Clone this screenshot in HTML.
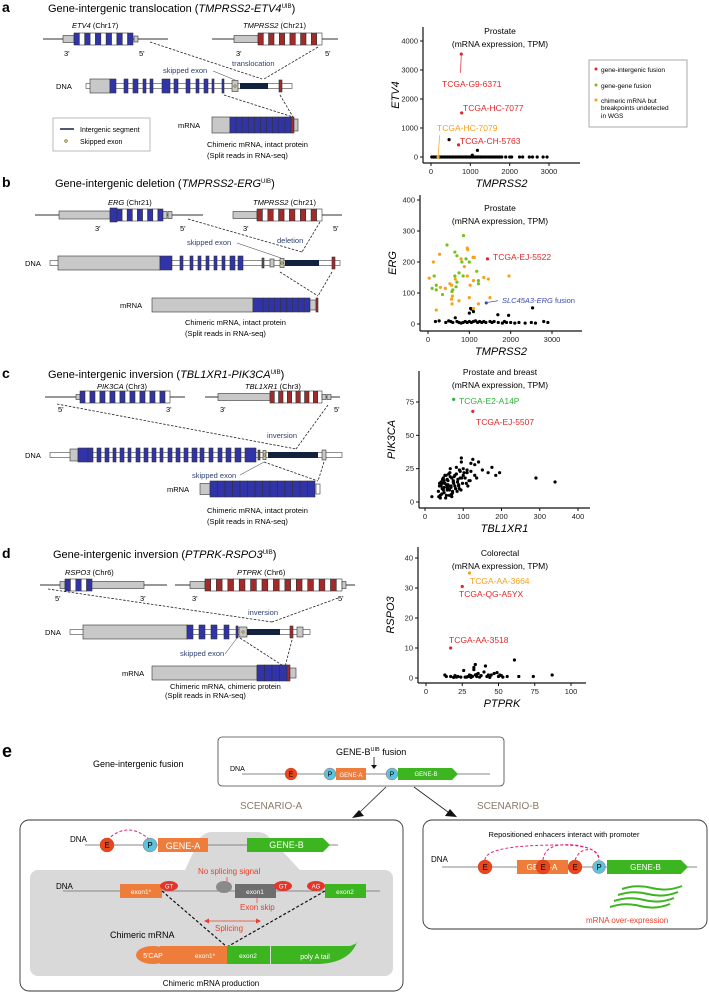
<!DOCTYPE html>
<html><head><meta charset="utf-8"><style>
body{margin:0;background:#fff}
svg{display:block;font-family:"Liberation Sans",Arial,sans-serif}
</style></head><body>
<svg id="fig" width="709" height="993" viewBox="0 0 709 993" xmlns="http://www.w3.org/2000/svg">
<g id="diag"></g>
<g id="charts"></g>
<g id="panelE"></g>
</svg>
<script>
// ---------- chart data ----------
const aBlackX=[20,60,100,140,180,220,260,300,340,380,420,460,500,540,580,620,660,700,740,780,820,860,900,940,980,1020,1060,1100,1140,1180,1220,1260,1300,1350,1400,1450,1500,1550,1600,1650,1700,1750,1800,1900,2000,2050,2250,2330,2500,2580,2700,2850,2950,460,1180,1050];
const aBlackY=[0,0,0,0,0,0,0,0,0,0,0,0,0,0,0,0,0,0,0,0,0,0,0,0,0,0,0,0,0,0,0,0,0,0,0,0,0,0,0,0,0,0,0,0,0,0,0,0,0,0,0,0,0,600,230,60];
const aRedX=[770,780,700];
const aRedY=[3550,1520,420];
const aOrX=[180];
const aOrY=[0];
const aXTicks=[0,1000,2000,3000];
const aYTicks=[0,1000,2000,3000,4000];

const bGreenX=[460,860,650,700,820,920,1000,1180,1220,1220,150,200,100,200,350,580,650,750,700,600,680,850];
const bGreenY=[255,285,232,220,200,210,200,170,140,130,155,125,115,110,95,105,155,165,135,110,120,155];
const bOrX=[130,280,30,300,420,530,570,660,590,570,580,750,1000,1100,200,950,1020,1100,1090,1120,960,950,800,1460,1960,1500,1220,1350,880];
const bOrY=[200,225,148,118,115,130,125,145,90,80,65,75,85,50,45,155,125,140,215,215,240,245,210,145,155,85,65,150,185];
const bBlackX=[180,270,430,500,550,600,660,700,750,800,850,900,950,1000,1050,1100,1150,1200,1250,1300,1350,1400,1500,1550,1600,1700,1800,1850,1900,2000,2100,2200,2350,2500,2600,2800,2900,1000,1050,1100,1690,1950,2530,1030];
const bBlackY=[8,10,5,10,8,5,20,8,5,3,5,8,5,8,5,8,10,5,8,5,8,5,8,5,8,5,3,8,5,5,3,5,3,5,3,8,5,35,48,40,30,28,52,50];
const bRedX=[1440];
const bRedY=[210];
const bBlueX=[1410];
const bBlueY=[68];
const bXTicks=[0,1000,2000,3000];
const bYTicks=[0,100,200,300,400];

const cBlackX=[18,35,38,40,42,45,48,50,52,55,58,60,62,65,68,70,72,75,78,80,82,85,88,90,92,95,98,100,105,110,115,120,125,130,140,150,165,175,185,195,290,340,36,44,50,56,60,64,70,74,78,84,90,96,102,108,112,118,45,52,58,66,72,80,88,94,100,40,48,54,62,68,76,86,92,38,46,56,64,74,82,60,70,58,66,50,42,95,130,120,135,110];
const cBlackY=[4,8,12,5,15,10,18,7,14,20,9,16,12,22,11,18,8,14,20,10,26,15,12,24,18,30,14,20,18,22,16,29,32,20,30,24,22,26,20,22,18,15,4,6,11,5,13,9,6,16,12,8,10,18,22,14,12,16,14,20,17,19,7,10,13,9,25,3,9,3,21,12,19,17,23,14,17,13,5,15,21,10,4,11,25,16,12,33,28,23,18,24];
const cGreenX=[75];
const cGreenY=[77];
const cRedX=[125];
const cRedY=[68];
const cXTicks=[0,100,200,300,400];
const cYTicks=[0,25,50,75];

const dBlackX=[13,14,17,19,20,21,22,26,27,29,30,31,32,33,34,34,35,36,37,38,40,41,42,43,44,45,47,49,50,51,52,53,56,61,64,74,87,33,35,31,28,24];
const dBlackY=[1,0.5,0.5,0.2,0.8,0.3,0.5,2.5,0.3,0.5,1,0.2,0.5,3.5,4.5,1,0.5,1.5,0.3,0.8,2,4,0.5,1,0.2,1,1.5,1.8,0.5,1,0.8,0.3,0.5,6,0.5,0.5,1,2.8,1.2,0.8,0.3,0.3];
const dOrX=[30];
const dOrY=[35];
const dRedX=[25,17];
const dRedY=[30.5,10];
const dXTicks=[0,25,50,75,100];
const dYTicks=[0,10,20,30,40];

const NS="http://www.w3.org/2000/svg";
function mk(parent,tag,attrs,text){const e=document.createElementNS(NS,tag);for(const k in attrs)e.setAttribute(k,attrs[k]);if(text!==undefined)e.textContent=text;parent.appendChild(e);return e;}
const RED="#e3262a",GREEN="#73c31c",ORANGE="#f7a11a",BLUE="#3a4bb0";

function chart(name,ax,series,xt,yt,xlab,ylab){
  const g=mk(document.getElementById('charts'),'g',{});
  
  
  const sx=v=>ax.px0+(v-ax.x0)/(ax.x1-ax.x0)*(ax.px1-ax.px0);
  const sy=v=>ax.py0+(v-ax.y0)/(ax.y1-ax.y0)*(ax.py1-ax.py0);
  const yl=mk(g,'line',{x1:ax.lx,y1:ax.top,x2:ax.lx,y2:ax.by,stroke:'#111','stroke-width':1.2});
  
  
  const xl=mk(g,'line',{x1:ax.lx,y1:ax.by,x2:ax.right,y2:ax.by,stroke:'#111','stroke-width':1.2});
  
  
  xt.forEach(v=>{const x=sx(v);mk(g,'line',{x1:x,y1:ax.by,x2:x,y2:ax.by+3,stroke:'#111'});
    const t=mk(g,'text',{x:x,y:ax.by+11,'font-size':7.5,'text-anchor':'middle',fill:'#222'},v);
    
    });
  yt.forEach(v=>{const y=sy(v);mk(g,'line',{x1:ax.lx-3,y1:y,x2:ax.lx,y2:y,stroke:'#111'});
    const t=mk(g,'text',{x:ax.lx-5,y:y+2.5,'font-size':7.5,'text-anchor':'end',fill:'#222'},v);
    
    });
  const xt2=mk(g,'text',{x:(ax.lx+ax.right)/2,y:ax.by+24,'font-size':11,'font-style':'italic','text-anchor':'middle'},xlab);
  
  
  const cy=(ax.top+ax.by)/2;
  const yt2=mk(g,'text',{x:ax.lx-24,y:cy,'font-size':11,'font-style':'italic','text-anchor':'middle',transform:`rotate(-90 ${ax.lx-24} ${cy})`},ylab);
  
  
  series.forEach(s=>{s.xs.forEach((v,i)=>{const c=mk(g,'circle',{cx:sx(v),cy:sy(s.ys[i]),r:1.6,fill:s.c});
    
    });});
  return {g,sx,sy};
}
function txt(p,x,y,s,t,extra){return mk(p,'text',Object.assign({x:x,y:y,'font-size':s},extra||{}),t);}

// chart a
let A=chart('chart-etv4',{x0:0,x1:3000,px0:431,px1:549,y0:0,y1:4000,py0:157,py1:41,lx:423,by:163,top:27,right:580},
 [{xs:aBlackX,ys:aBlackY,c:'#000',n:'sample'},{xs:aOrX,ys:aOrY,c:ORANGE,n:'chimeric'},{xs:aRedX,ys:aRedY,c:RED,n:'intergenic'}],aXTicks,aYTicks,'TMPRSS2','ETV4');
txt(A.g,500,34,8.5,'Prostate',{'text-anchor':'middle'});txt(A.g,500,47,8.5,'(mRNA expression, TPM)',{'text-anchor':'middle'});
mk(A.g,'line',{x1:A.sx(770),y1:A.sy(3550),x2:A.sx(750),y2:A.sy(2900),stroke:RED,'stroke-width':0.7});
txt(A.g,442,87,8.5,'TCGA-G9-6371',{fill:RED});txt(A.g,463,111,8.5,'TCGA-HC-7077',{fill:RED});
txt(A.g,437,131,8.5,'TCGA-HC-7079',{fill:ORANGE});txt(A.g,460,144,8.5,'TCGA-CH-5763',{fill:RED});
mk(A.g,'line',{x1:A.sx(180),y1:A.sy(0),x2:A.sx(220),y2:A.sy(750),stroke:ORANGE,'stroke-width':0.7});
let lg=mk(A.g,'g',{});
mk(lg,'rect',{x:589,y:60,width:98,height:67,fill:'#fff',stroke:'#aaa','stroke-width':1});
[[RED,'gene-intergenic fusion',71],[GREEN,'gene-gene fusion',87],[ORANGE,'chimeric mRNA but',102]].forEach(r=>{mk(lg,'circle',{cx:596,cy:r[2]-2,r:1.5,fill:r[0]});txt(lg,601,r[2]+1,6.5,r[1]);});
txt(lg,601,110,6.5,'breakpoints undetected');txt(lg,601,118,6.5,'in WGS');

// chart b
let B=chart('chart-erg',{x0:0,x1:3000,px0:428,px1:552,y0:0,y1:300,py0:324,py1:231,lx:420,by:331,top:195,right:582},
 [{xs:bBlackX,ys:bBlackY,c:'#000',n:'sample'},{xs:bGreenX,ys:bGreenY,c:GREEN,n:'gene-gene'},{xs:bOrX,ys:bOrY,c:ORANGE,n:'chimeric'},{xs:bRedX,ys:bRedY,c:RED,n:'intergenic'},{xs:bBlueX,ys:bBlueY,c:BLUE,n:'slc45a3'}],bXTicks,bYTicks,'TMPRSS2','ERG');
txt(B.g,500,211,8.5,'Prostate',{'text-anchor':'middle'});txt(B.g,500,224,8.5,'(mRNA expression, TPM)',{'text-anchor':'middle'});
txt(B.g,493,260,8.5,'TCGA-EJ-5522',{fill:RED});
mk(B.g,'line',{x1:B.sx(1450),y1:B.sy(70),x2:498,y2:B.sy(75),stroke:BLUE,'stroke-width':0.7});
let sl=txt(B.g,502,303,7.5,'',{fill:BLUE});mk(sl,'tspan',{'font-style':'italic'},'SLC45A3-ERG');mk(sl,'tspan',{},' fusion');

// chart c
let C=chart('chart-pik3ca',{x0:0,x1:400,px0:425,px1:578,y0:0,y1:75,py0:502,py1:402,lx:419,by:508,top:371,right:590},
 [{xs:cBlackX,ys:cBlackY,c:'#000',n:'sample'},{xs:cGreenX,ys:cGreenY,c:'#2fb13c',n:'gene-gene'},{xs:cRedX,ys:cRedY,c:RED,n:'intergenic'}],cXTicks,cYTicks,'TBL1XR1','PIK3CA');
txt(C.g,500,375,8.5,'Prostate and breast',{'text-anchor':'middle'});txt(C.g,500,388,8.5,'(mRNA expression, TPM)',{'text-anchor':'middle'});
txt(C.g,459,404,8.5,'TCGA-E2-A14P',{fill:'#2fb13c'});txt(C.g,476,425,8.5,'TCGA-EJ-5507',{fill:RED});

// chart d
let D=chart('chart-rspo3',{x0:0,x1:100,px0:426,px1:571,y0:0,y1:40,py0:678,py1:558,lx:418,by:683,top:547,right:586},
 [{xs:dBlackX,ys:dBlackY,c:'#000',n:'sample'},{xs:dOrX,ys:dOrY,c:ORANGE,n:'chimeric'},{xs:dRedX,ys:dRedY,c:RED,n:'intergenic'}],dXTicks,dYTicks,'PTPRK','RSPO3');
txt(D.g,500,556,8.5,'Colorectal',{'text-anchor':'middle'});txt(D.g,500,569,8.5,'(mRNA expression, TPM)',{'text-anchor':'middle'});
txt(D.g,470,584,8.5,'TCGA-AA-3664',{fill:ORANGE});txt(D.g,459,597,8.5,'TCGA-QG-A5YX',{fill:RED});txt(D.g,449,643,8.5,'TCGA-AA-3518',{fill:RED});

// ---------- schematics ----------
const G=document.getElementById('diag');
const EB="#3034a8",ER="#a32a2a",GR="#c8c8c8",NAVY="#13233f",TB="#2c4170";
function line(x0,x1,y,w){mk(G,'line',{x1:x0,y1:y,x2:x1,y2:y,stroke:'#777','stroke-width':w||1.6});}
function bx(x,y,w,h,f){mk(G,'rect',{x:x,y:y-h/2,width:w,height:h,fill:f,stroke:'#333','stroke-width':0.6});}
function run(x0,x1,y,n,h,col,alt){const w=(x1-x0)/n;for(let i=0;i<n;i++)bx(x0+i*w,y,w,h,(alt&&i%2)?'#fff':col);}
function dna(x0,x1,y){mk(G,'rect',{x:x0,y:y-2.5,width:x1-x0,height:5,fill:'#fff',stroke:'#444','stroke-width':0.6});}
function dash(x1,y1,x2,y2){mk(G,'line',{x1:x1,y1:y1,x2:x2,y2:y2,stroke:'#222','stroke-width':0.8,'stroke-dasharray':'2.5,1.5'});}
function t(x,y,s,str,ex){return mk(G,'text',Object.assign({x:x,y:y,'font-size':s},ex||{}),str);}
function title(x,y,letter,pre,it,post){t(2,y,14,letter,{'font-weight':'bold'});const e=t(x,y,11,pre);mk(e,'tspan',{'font-style':'italic'},it);mk(e,'tspan',{'font-size':6,dy:-4},'UIB');mk(e,'tspan',{dy:4},')');}
function glabel(x,y,it,rest){const e=t(x,y,7.5,'');mk(e,'tspan',{'font-style':'italic'},it);mk(e,'tspan',{},rest);}
function skipped(x,y,w,h){bx(x,y,w,h,GR);mk(G,'circle',{cx:x+w/2,cy:y,r:1.3,fill:'#e0c030',stroke:'#333','stroke-width':0.4});}

// panel a
title(48,12,'a','Gene-intergenic translocation (','TMPRSS2-ETV4','');
line(43,168,39);bx(63,39,11,7,GR);run(74,133,39,11,12,EB,true);bx(134,39,4,6,GR);
line(212,338,39);bx(234,39,24,7,GR);run(258,322,39,12,12,ER,true);
glabel(72,28,'ETV4',' (Chr17)');glabel(243,28,'TMPRSS2',' (Chr21)');
t(64,56,7.5,"3'");t(139,56,7.5,"5'");t(236,56,7.5,"3'");t(325,56,7.5,"5'");
dash(150,42,262,79);dash(318,47,264,79);
t(232,66,7.5,'translocation',{fill:TB});t(163,73,7.5,'skipped exon',{fill:TB});mk(G,'line',{x1:213,y1:71,x2:235,y2:80,stroke:'#333','stroke-width':0.5});
dna(86,292,86);bx(90,86,20,14,GR);
[[110,6],[124,4],[133,5],[143,3],[150,3],[162,8],[174,4],[186,4],[196,3],[204,4],[212,2],[222,2]].forEach(e=>bx(e[0],86,e[1],14,EB));
skipped(232,86,6,11);mk(G,'rect',{x:240,y:83,width:28,height:6,fill:NAVY});bx(279,86,3,12,ER);
t(56,89,7.5,'DNA');
dash(224,95,293,117);dash(280,95,293,117);
bx(212,125,18,16,GR);run(230,291,125,10,16,EB,false);bx(291,125,3,16,ER);bx(294,125,4,12,GR);
t(178,128,7.5,'mRNA');t(207,147,7.5,'Chimeric mRNA, intact protein');t(207,158,7.5,'(Split reads in RNA-seq)');
mk(G,'rect',{x:53,y:118,width:97,height:33,fill:'#fff',stroke:'#aaa','stroke-width':0.8});
mk(G,'line',{x1:60,y1:129,x2:74,y2:129,stroke:NAVY,'stroke-width':1.5});t(80,132,7,'Intergenic segment');
mk(G,'circle',{cx:66,cy:141,r:1.5,fill:'#e0c030',stroke:'#333','stroke-width':0.4});t(80,144,7,'Skipped exon');

// panel b
title(55,187,'b','Gene-intergenic deletion (','TMPRSS2-ERG','');
line(35,203,215);bx(59,215,51,8,GR);bx(110,215,7,14,EB);run(117,163,215,9,12,EB,true);bx(163,215,4,7,GR);bx(168,215,4,7,GR);
line(233,342,215);bx(233,215,24,7,GR);run(257,322,215,12,12,ER,true);
glabel(108,205,'ERG',' (Chr21)');glabel(253,205,'TMPRSS2',' (Chr21)');
t(95,231,7.5,"3'");t(180,231,7.5,"5'");t(243,231,7.5,"3'");t(333,231,7.5,"5'");
dash(188,219,302,252);dash(320,222,302,252);
t(187,245,7.5,'skipped exon',{fill:TB});t(277,243,7.5,'deletion',{fill:TB});mk(G,'line',{x1:237,y1:243,x2:281,y2:258,stroke:'#333','stroke-width':0.5});
dna(50,340,263);bx(58,263,102,14,GR);bx(160,263,12,14,EB);
[180,190,198,206,214,222,230,238].forEach((x,i)=>bx(x,263,i>5?5:3,14,EB));bx(262,263,2,10,'#555');bx(270,263,4,8,GR);skipped(280,263,4,9);
mk(G,'rect',{x:285,y:260,width:34,height:6,fill:NAVY});bx(332,263,3,12,ER);
t(25,266,7.5,'DNA');dash(280,272,318,296);dash(332,272,318,296);
bx(152,305,101,14,GR);bx(253,305,10,14,EB);run(263,310,305,8,14,EB,false);bx(310,305,6,10,GR);bx(316,305,2,14,ER);
t(120,308,7.5,'mRNA');t(185,325,7.5,'Chimeric mRNA, intact protein');t(185,336,7.5,'(Split reads in RNA-seq)');

// panel c
title(48,378,'c','Gene-intergenic inversion (','TBL1XR1-PIK3CA','');
line(45,185,397);bx(76,397,4,5,GR);run(80,170,397,18,12,EB,true);
line(205,340,397);bx(218,397,52,7,GR);run(270,322,397,12,12,ER,true);bx(322,397,4,5,GR);bx(327,397,4,5,GR);
glabel(97,389,'PIK3CA',' (Chr3)');glabel(245,389,'TBL1XR1',' (Chr3)');
t(58,412,7.5,"5'");t(166,412,7.5,"3'");t(220,412,7.5,"3'");t(334,412,7.5,"5'");
dash(57,404,296,449);dash(328,405,296,449);t(267,438,7.5,'inversion',{fill:TB});
dna(50,342,455);bx(70,455,8,12,GR);
[[78,10],[88,5],[97,4],[105,4],[113,3],[120,4],[128,3],[136,4],[144,4],[152,4],[160,3],[168,4],[176,4],[184,4],[192,5],[200,4],[209,4],[218,4],[226,5],[235,6],[245,11]].forEach(e=>bx(e[0],455,e[1],14,EB));
bx(258,455,2,10,'#555');skipped(263,455,3,9);mk(G,'rect',{x:268,y:452,width:50,height:6,fill:NAVY});bx(322,455,4,10,GR);
t(25,458,7.5,'DNA');t(192,478,7.5,'skipped exon',{fill:TB});mk(G,'line',{x1:240,y1:475,x2:264,y2:462,stroke:'#333','stroke-width':0.5});
dash(264,462,318,481);dash(324,462,318,481);
bx(200,489,10,11,GR);run(210,315,489,14,16,EB,false);bx(316,489,4,10,'#fff');
t(167,492,7.5,'mRNA');t(207,513,7.5,'Chimeric mRNA, intact protein');t(207,524,7.5,'(Split reads in RNA-seq)');

// panel d
title(53,558,'d','Gene-intergenic inversion (','PTPRK-RSPO3','');
line(40,167,585);bx(60,585,5,7,GR);run(65,92,585,5,12,EB,true);bx(92,585,52,7,GR);
line(175,355,585);bx(190,585,15,7,GR);run(205,342,585,24,12,ER,true);bx(342,585,4,7,GR);
glabel(65,575,'RSPO3',' (Chr6)');glabel(237,575,'PTPRK',' (Chr6)');
t(55,601,7.5,"5'");t(140,601,7.5,"3'");t(192,601,7.5,"3'");t(338,601,7.5,"5'");
dash(48,589,272,622);dash(338,598,272,622);t(248,615,7.5,'inversion',{fill:TB});
dna(70,310,632);bx(83,632,104,14,GR);[[187,6],[199,6],[211,6],[224,5]].forEach(e=>bx(e[0],632,e[1],14,EB));bx(236,632,2,12,EB);
skipped(239,632,8,10);mk(G,'rect',{x:247,y:629,width:33,height:6,fill:NAVY});bx(290,632,3,12,ER);bx(297,632,6,10,GR);
t(45,635,7.5,'DNA');t(180,656,7.5,'skipped exon',{fill:TB});mk(G,'line',{x1:225,y1:654,x2:237,y2:638,stroke:'#333','stroke-width':0.5});
dash(240,638,285,667);dash(292,640,285,667);
bx(152,673,105,14,GR);run(257,287,673,4,16,EB,false);bx(287,673,3,16,ER);bx(290,673,6,10,GR);
t(122,676,7.5,'mRNA');t(170,689,7.5,'Chimeric mRNA, chimeric protein');t(165,698,7.5,'(Split reads in RNA-seq)');

// ---------- panel e ----------
const E=document.getElementById('panelE');
function et(x,y,s,str,ex){return mk(E,'text',Object.assign({x:x,y:y,'font-size':s},ex||{}),str);}
function circ(x,y,r,f,l,fs){mk(E,'circle',{cx:x,cy:y,r:r,fill:f,stroke:'#b03010','stroke-width':0.3});et(x,y+fs*0.36,fs,l,{'text-anchor':'middle'});}
function arrowBox(x,y,w,h,f,l,fs){mk(E,'path',{d:`M${x} ${y-h/2}h${w-h/2}l${h/2} ${h/2}l${-h/2} ${h/2}h${-(w-h/2)}z`,fill:f});et(x+w/2-2,y+fs*0.36,fs,l,{'text-anchor':'middle',fill:'#fff'});}
const OR="#ee7d3b",GN="#3cb521",EC="#e8461c",PC="#5fc2dc";
et(2,757,18,'e',{'font-weight':'bold'});
et(93,767,9,'Gene-intergenic fusion');
mk(E,'rect',{x:218,y:737,width:286,height:49,rx:4,fill:'#fff',stroke:'#444','stroke-width':0.8});
let gb=et(336,755,9,'GENE-B');mk(gb,'tspan',{'font-size':5.5,dy:-4},'UIB');mk(gb,'tspan',{dy:4},' fusion');
mk(E,'line',{x1:374,y1:757,x2:374,y2:767,stroke:'#111','stroke-width':0.8});mk(E,'path',{d:'M371 765l3 4l3-4z',fill:'#111'});
et(230,771,7,'DNA');mk(E,'line',{x1:242,y1:774,x2:490,y2:774,stroke:'#888','stroke-width':1});
circ(291,774,6,EC,'E',7);circ(330,774,6,PC,'P',7);
mk(E,'rect',{x:336,y:768,width:30,height:12,fill:OR});et(351,777,6,'GENE-A',{'text-anchor':'middle',fill:'#fff'});
circ(392,774,6,PC,'P',7);arrowBox(398,774,60,12,GN,'GENE-B',6);
mk(E,'line',{x1:386,y1:787,x2:360,y2:812,stroke:'#222','stroke-width':0.8});mk(E,'path',{d:'M352 818l12-2l-5-6z',fill:'#111'});
mk(E,'line',{x1:414,y1:787,x2:448,y2:812,stroke:'#222','stroke-width':0.8});mk(E,'path',{d:'M457 817l-12-1l5-7z',fill:'#111'});
et(240,809,10,'SCENARIO-A',{fill:'#8a7a6a'});et(477,809,10,'SCENARIO-B',{fill:'#8a7a6a'});
// box A
mk(E,'rect',{x:20,y:820,width:383,height:171,rx:9,fill:'#fff',stroke:'#333','stroke-width':0.9});
mk(E,'path',{d:'M185 870 L200 838 Q205 832 212 832 L258 832 Q265 832 270 838 L300 870 Z',fill:'#d9d9d9'});
mk(E,'rect',{x:30,y:870,width:363,height:106,rx:8,fill:'#d9d9d9'});
et(70,842,8,'DNA');mk(E,'line',{x1:85,y1:845,x2:338,y2:845,stroke:'#888','stroke-width':1});
mk(E,'path',{d:'M107 840 Q128 820 150 840',fill:'none',stroke:'#e8207a','stroke-width':1,'stroke-dasharray':'3,2'});
circ(107,845,7,EC,'E',8);circ(150,845,7,PC,'P',8);
mk(E,'rect',{x:158,y:838,width:50,height:14,fill:OR});et(183,849,9,'GENE-A',{'text-anchor':'middle',fill:'#fff'});
arrowBox(247,845,83,14,GN,'GENE-B',9);
et(198,874,8,'No splicing signal',{fill:'#e8402a'});
et(56,889,8,'DNA');mk(E,'line',{x1:63,y1:891,x2:380,y2:891,stroke:'#888','stroke-width':1});
mk(E,'rect',{x:120,y:884,width:42,height:14,fill:OR});et(141,894,6.5,'exon1*',{'text-anchor':'middle',fill:'#fff'});
mk(E,'ellipse',{cx:169,cy:886,rx:9,ry:5,fill:'#e3352a'});et(169,888.5,6,'GT',{'text-anchor':'middle',fill:'#fff'});
mk(E,'line',{x1:227,y1:877,x2:227,y2:883,stroke:'#e8402a','stroke-width':0.7});
mk(E,'ellipse',{cx:224,cy:887,rx:8,ry:6,fill:'#8a8a8a'});
mk(E,'rect',{x:235,y:884,width:41,height:14,fill:'#6e6e6e'});et(255,894,6.5,'exon1',{'text-anchor':'middle',fill:'#fff'});
mk(E,'ellipse',{cx:283,cy:886,rx:9,ry:5,fill:'#e3352a'});et(283,888.5,6,'GT',{'text-anchor':'middle',fill:'#fff'});
mk(E,'ellipse',{cx:316,cy:886,rx:9,ry:5,fill:'#e3352a'});et(316,888.5,6,'AG',{'text-anchor':'middle',fill:'#fff'});
mk(E,'rect',{x:325,y:884,width:41,height:14,fill:GN});et(345,894,6.5,'exon2',{'text-anchor':'middle',fill:'#fff'});
mk(E,'line',{x1:257,y1:898,x2:257,y2:903,stroke:'#e8402a','stroke-width':0.7});et(240,910,8,'Exon skip',{fill:'#e8402a'});
mk(E,'line',{x1:207,y1:921,x2:258,y2:921,stroke:'#e8402a','stroke-width':0.8});
mk(E,'path',{d:'M204 921l5-2.5v5zM261 921l-5-2.5v5z',fill:'#e8402a'});et(215,931,8,'Splicing',{fill:'#e8402a'});
mk(E,'line',{x1:162,y1:891,x2:227,y2:947,stroke:'#111','stroke-width':1.2,'stroke-dasharray':'3,2'});
mk(E,'line',{x1:325,y1:891,x2:227,y2:947,stroke:'#111','stroke-width':1.2,'stroke-dasharray':'3,2'});
et(110,938,9,'Chimeric mRNA');
mk(E,'ellipse',{cx:153,cy:955,rx:17,ry:9,fill:OR});mk(E,'rect',{x:160,y:946,width:23,height:18,fill:OR});
et(153,958,7,"5'CAP",{'text-anchor':'middle',fill:'#fff'});
mk(E,'rect',{x:183,y:946,width:44,height:18,fill:OR});et(205,958,6.5,'exon1*',{'text-anchor':'middle',fill:'#fff'});
mk(E,'rect',{x:227,y:946,width:43,height:18,fill:GN});et(248,958,6.5,'exon2',{'text-anchor':'middle',fill:'#fff'});
mk(E,'path',{d:'M271 946 H350 Q360 942 357 942 Q350 962 320 964 H271 Z',fill:GN});
et(315,959,7,'poly A tail',{'text-anchor':'middle',fill:'#fff'});
et(211,986,8,'Chimeric mRNA production',{'text-anchor':'middle'});
// box B
mk(E,'rect',{x:423,y:820,width:284,height:109,rx:9,fill:'#fff',stroke:'#333','stroke-width':0.9});
et(564,837,7.5,'Repositioned enhacers interact with promoter',{'text-anchor':'middle'});
et(431,862,8,'DNA');mk(E,'line',{x1:442,y1:867,x2:697,y2:867,stroke:'#888','stroke-width':1});
mk(E,'path',{d:'M485 860 Q485 845 560 845 Q600 845 599 860',fill:'none',stroke:'#e8207a','stroke-width':1,'stroke-dasharray':'3,2'});
mk(E,'path',{d:'M543 860 Q545 842 575 845 Q598 848 599 860',fill:'none',stroke:'#e8207a','stroke-width':1,'stroke-dasharray':'3,2'});
mk(E,'path',{d:'M575 860 Q580 848 590 850',fill:'none',stroke:'#e8207a','stroke-width':1,'stroke-dasharray':'3,2'});
mk(E,'rect',{x:517,y:860,width:51,height:14,fill:OR});et(542,870,8,'GENE-A',{'text-anchor':'middle',fill:'#fff'});
circ(485,867,7,EC,'E',8);circ(543,867,7,EC,'E',8);circ(575,867,7,EC,'E',8);circ(599,867,6.5,PC,'P',8);
arrowBox(607,867,81,14,GN,'GENE-B',8);
[0,1,2,3].forEach(i=>mk(E,'path',{d:`M${622-i*4} ${889+i*6} q15 -5 30 -1 t30 -2`,fill:'none',stroke:GN,'stroke-width':2}));
et(586,923,8,'mRNA over-expression',{fill:'#e8402a'});
</script>
</body></html>
